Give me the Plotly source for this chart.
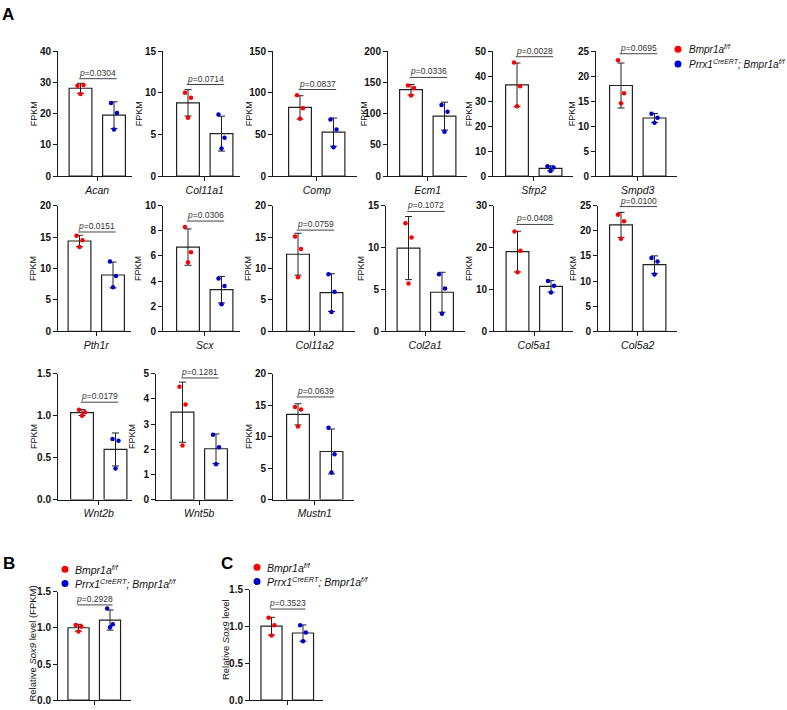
import numpy as np
import plotly.graph_objects as go

# ---------------- data ----------------
genes = ["Acan", "Col11a1", "Comp", "Ecm1", "Sfrp2", "Smpd3",
         "Pth1r", "Scx", "Col11a2", "Col2a1", "Col5a1", "Col5a2",
         "Wnt2b", "Wnt5b", "Mustn1"]
ctrl_fpkm = [[28.9, 29.2, 26.3], [10.0, 9.4, 7.0], [97.0, 81.5, 69.0],
             [145.0, 141.0, 129.0], [45.5, 36.0, 28.0], [23.2, 16.6, 14.6],
             [15.2, 14.5, 13.4], [8.3, 6.3, 5.5], [15.1, 13.1, 8.6],
             [12.9, 11.2, 5.7], [23.8, 19.2, 14.1], [23.2, 21.9, 18.4],
             [1.07, 1.04, 1.00], [4.48, 3.78, 2.15], [14.7, 14.3, 11.6]]
mut_fpkm = [[23.4, 20.2, 14.9], [7.4, 4.6, 3.3], [68.0, 56.0, 34.5],
            [114.0, 103.0, 71.0], [3.9, 3.4, 2.0], [12.5, 11.7, 10.7],
            [11.1, 8.8, 7.0], [4.2, 3.6, 2.15], [9.1, 6.3, 3.1],
            [6.8, 5.1, 2.1], [12.0, 10.9, 9.3], [14.6, 13.9, 11.3],
            [0.72, 0.70, 0.37], [2.57, 2.08, 1.40], [11.4, 7.2, 4.3]]
p_values = ["0.0304", "0.0714", "0.0837", "0.0336", "0.0028", "0.0695",
            "0.0151", "0.0306", "0.0759", "0.1072", "0.0408", "0.0100",
            "0.0179", "0.1281", "0.0639"]
p_bracket_y = [31.2, 11.0, 104, 158, 47.8, 24.5,
               15.8, 8.77, 16.1, 14.3, 25.5, 24.8,
               1.16, 4.83, 16.3]
y_max = [40, 15, 150, 200, 50, 25, 20, 10, 20, 15, 30, 25, 1.5, 5, 20]
y_dtick = [10, 5, 50, 50, 10, 5, 5, 2, 5, 5, 10, 5, 0.5, 1, 5]

sox9_ylabels = ["Relative <i>Sox9</i> level (FPKM)", "Relative <i>Sox9</i> level"]
sox9_ctrl = [[1.04, 1.02, 0.95], [1.12, 1.02, 0.88]]
sox9_mut = [[1.27, 1.05, 1.01], [1.02, 0.92, 0.80]]
sox9_p = ["0.2928", "0.3523"]
sox9_bracket_y = [1.32, 1.24]

group_names = ["<i>Bmpr1a<sup>f/f</sup></i>",
               "<i>Prrx1<sup>CreERT</sup>; Bmpr1a<sup>f/f</sup></i>"]

# ---------------- style / geometry ----------------
W, H = 787, 710
FONT = "Arial, 'Liberation Sans', sans-serif"
AX = "#1a1a1a"
RED = "#ff0000"
BLUE = "#0000cc"
JITTER = [-0.09, 0.09, 0.0]

# (axis left px, first bar centre px, axis right px, top px, bottom px)
geom_A = [(58, 80.5, 132, 46, 173), (163, 188, 240, 46, 173), (273, 300, 357, 46, 173),
          (388, 411, 467, 46, 173), (493, 517, 573, 46, 173), (596, 621, 677, 46, 173),
          (58, 79.5, 131, 203, 331), (163, 188, 240, 203, 331), (273, 298, 355, 203, 331),
          (386, 408.5, 465, 203, 331), (494, 517.5, 573, 203, 331), (598, 621, 677, 203, 331),
          (58, 82, 132, 374, 502), (156, 182.5, 233, 374, 502), (273, 298, 354, 374, 502)]
geom_BC = [(58, 78.5, 131, 596, 706), (250, 271.5, 323, 594, 706)]
# y-title placement: (px left of axis, centre y px)
ytitle_BC = [(25.5, 649), (25, 644)]
# legend blocks: (marker x px, text x px, first row y px, row gap px, font size)
legend_geom = [(678, 687, 44, 15, 10), (65, 73, 573, 14.5, 10.5), (257, 265, 571, 14.5, 10.5)]

panels = []
for i, g in enumerate(genes):
    left, c1, right, top, bottom = geom_A[i]
    panels.append(dict(ctrl=ctrl_fpkm[i], mut=mut_fpkm[i], p=p_values[i], py=p_bracket_y[i],
                       ymax=y_max[i], dtick=y_dtick[i], geom=geom_A[i], unit=33.5,
                       ylabel="FPKM", yt=(24.5, (top + bottom) / 2), yfs=9,
                       xlabel=f"<i>{g}</i>", fmt=".1f" if y_max[i] < 2 else "d"))
for k in range(2):
    panels.append(dict(ctrl=sox9_ctrl[k], mut=sox9_mut[k], p=sox9_p[k], py=sox9_bracket_y[k],
                       ymax=1.5, dtick=0.5, geom=geom_BC[k], unit=31.5,
                       ylabel=sox9_ylabels[k], yt=ytitle_BC[k], yfs=9.5,
                       xlabel=None, fmt=".1f"))

fig = go.Figure()
layout = {}
annotations = []
shapes = []

for n, pnl in enumerate(panels, start=1):
    xr = "x" if n == 1 else f"x{n}"
    yr = "y" if n == 1 else f"y{n}"
    xk = "xaxis" if n == 1 else f"xaxis{n}"
    yk = "yaxis" if n == 1 else f"yaxis{n}"
    left, c1, right, top, bottom = pnl["geom"]
    unit = pnl["unit"]
    bw = 0.68 if unit > 32 else 0.67

    xa = dict(domain=[left / W, right / W],
              range=[(left - c1) / unit, (right - c1) / unit],
              anchor=yr, showline=True, linecolor=AX, linewidth=1,
              ticks="outside", ticklen=4, tickcolor=AX, tickwidth=1,
              tickvals=[0.5],
              showgrid=False, zeroline=False, fixedrange=True)
    if pnl["xlabel"]:
        xa.update(ticktext=[pnl["xlabel"]],
                  tickfont=dict(family=FONT, size=10.5, color="#111"))
    else:
        xa.update(showticklabels=False)
    layout[xk] = xa
    layout[yk] = dict(domain=[1 - bottom / H, 1 - top / H],
                      range=[0, pnl["ymax"]], tick0=0, dtick=pnl["dtick"],
                      tickformat=pnl["fmt"],
                      anchor=xr, showline=True, linecolor=AX, linewidth=1,
                      ticks="outside", ticklen=4, tickcolor=AX, tickwidth=1,
                      tickfont=dict(family=FONT, size=10, color="#111", weight="bold"),
                      showgrid=False, zeroline=False, fixedrange=True)

    means = [float(np.mean(pnl["ctrl"])), float(np.mean(pnl["mut"]))]
    sds = [float(np.std(pnl["ctrl"], ddof=1)), float(np.std(pnl["mut"], ddof=1))]
    fig.add_trace(go.Bar(x=[0, 1], y=means, width=bw, xaxis=xr, yaxis=yr,
                         marker=dict(color="white", line=dict(color="#222", width=1.2)),
                         error_y=dict(type="data", array=sds, visible=True,
                                      color="#222", thickness=1, width=3.5),
                         showlegend=False, hoverinfo="skip"))
    fig.add_trace(go.Scatter(x=[0 + j for j in JITTER], y=pnl["ctrl"], mode="markers",
                             xaxis=xr, yaxis=yr, marker=dict(color=RED, size=4.5),
                             name=group_names[0], showlegend=False, hoverinfo="skip"))
    fig.add_trace(go.Scatter(x=[1 + j for j in JITTER], y=pnl["mut"], mode="markers",
                             xaxis=xr, yaxis=yr, marker=dict(color=BLUE, size=4.5),
                             name=group_names[1], showlegend=False, hoverinfo="skip"))

    # p-value bracket
    shapes.append(dict(type="line", xref=xr, yref=yr, x0=-0.04, x1=1.08,
                       y0=pnl["py"], y1=pnl["py"], line=dict(color="#444", width=1)))
    annotations.append(dict(text=f"<i>p</i>=" + pnl["p"], xref=xr, yref=yr, x=0.52,
                            y=pnl["py"], yanchor="bottom", showarrow=False,
                            font=dict(family=FONT, size=8.5, color="#333"), yshift=-1))
    # y-axis title
    dx, cy = pnl["yt"]
    annotations.append(dict(text=pnl["ylabel"], xref="paper", yref="paper",
                            x=(left - dx) / W, y=1 - cy / H,
                            textangle=-90, showarrow=False, xanchor="center", yanchor="middle",
                            font=dict(family=FONT, size=pnl["yfs"], color="#111")))

# legends (drawn as marker + label pairs)
for mx, tx, y0, gap, fs in legend_geom:
    for r, (name, col) in enumerate(zip(group_names, [RED, BLUE])):
        yy = y0 + r * gap
        shapes.append(dict(type="circle", xref="paper", yref="paper",
                           xsizemode="pixel", ysizemode="pixel",
                           xanchor=mx / W, yanchor=1 - yy / H,
                           x0=-3.5, x1=3.5, y0=-3.5, y1=3.5,
                           fillcolor=col, line=dict(width=0)))
        annotations.append(dict(text=name, xref="paper", yref="paper",
                                x=tx / W, y=1 - yy / H, xanchor="left", yanchor="middle",
                                showarrow=False, font=dict(family=FONT, size=fs, color="#111")))

for lbl, x, y in [("A", 0, 9), ("B", 1, 567), ("C", 219, 567)]:
    annotations.append(dict(text=f"<b>{lbl}</b>", xref="paper", yref="paper",
                            x=x / W, y=1 - y / H, xanchor="left", yanchor="middle",
                            showarrow=False, font=dict(family=FONT, size=17, color="black")))

fig.update_layout(width=W, height=H, margin=dict(l=0, r=0, t=0, b=0),
                  paper_bgcolor="white", plot_bgcolor="white",
                  font=dict(family=FONT), barmode="overlay", showlegend=False,
                  annotations=annotations, shapes=shapes, **layout)

# the page's default 8px body margin would shift the 787x710 figure; remove it
fig.write_html("out.html", config={"displayModeBar": False},
               post_script="document.body.style.margin='0';")
